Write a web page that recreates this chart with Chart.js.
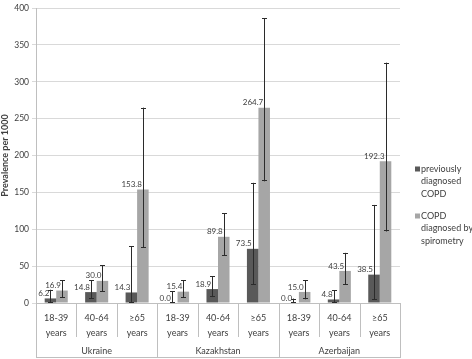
<!DOCTYPE html>
<html>
<head>
<meta charset="utf-8">
<script src="https://cdn.jsdelivr.net/npm/chart.js@4"></script>
<style>
  html, body { margin: 0; padding: 0; background: #fff; }
  #wrap { width: 472px; height: 359px; position: relative; }
</style>
</head>
<body>
<div id="wrap"><canvas id="copdChart" width="472" height="359"></canvas></div>
<script>
// age groups per country (two-line tick labels)
const ageLabels = [
    ['18-39', 'years'], ['40-64', 'years'], ['\u226565', 'years'],
    ['18-39', 'years'], ['40-64', 'years'], ['\u226565', 'years'],
    ['18-39', 'years'], ['40-64', 'years'], ['\u226565', 'years']
];
const countries = ['Ukraine', 'Kazakhstan', 'Azerbaijan'];
const yTicks = [0, 50, 100, 150, 200, 250, 300, 350, 400];

const seriesNames = ['previously diagnosed COPD', 'COPD diagnosed by spirometry'];
const legendLines = [['previously', 'diagnosed', 'COPD'], ['COPD', 'diagnosed by', 'spirometry']];

const previousCOPD = [6.2, 14.8, 14.3, 0.0, 18.9, 73.5, 0.0, 4.8, 38.5];
const previousLow = [0, 6, 0, 0, 8, 25, 0, 0, 4.5];
const previousHigh = [18, 31, 77, 16, 36, 163, 6, 17, 133];

const spiroCOPD = [16.9, 30.0, 153.8, 15.4, 89.8, 264.7, 15.0, 43.5, 192.3];
const spiroLow = [7, 15, 75, 7, 64, 165, 5, 25, 97];
const spiroHigh = [31, 51, 265, 31, 122, 386, 31, 68, 326];

const FONT = 'Lato';
const textColor = '#404040';
const lineGray = '#bfbfbf';

// error bars + value labels on top of bars
const barExtras = {
    id: 'barExtras',
    afterDatasetsDraw(chart) {
        const ctx = chart.ctx;
        const y = chart.scales.y;
        const ranges = [[previousLow, previousHigh], [spiroLow, spiroHigh]];
        ctx.save();
        chart.data.datasets.forEach((ds, di) => {
            const meta = chart.getDatasetMeta(di);
            meta.data.forEach((bar, i) => {
                const lo = y.getPixelForValue(ranges[di][0][i]);
                const hi = y.getPixelForValue(ranges[di][1][i]);
                const x = Math.round(bar.x) + 0.5;
                ctx.strokeStyle = '#2b2b2b';
                ctx.lineWidth = 1;
                ctx.beginPath();
                ctx.moveTo(x, lo); ctx.lineTo(x, hi);
                ctx.moveTo(x - 2.5, Math.round(hi) + 0.5); ctx.lineTo(x + 2.5, Math.round(hi) + 0.5);
                ctx.moveTo(x - 2.5, Math.round(lo) - 0.5); ctx.lineTo(x + 2.5, Math.round(lo) - 0.5);
                ctx.stroke();

                ctx.fillStyle = textColor;
                ctx.font = '8px ' + FONT;
                ctx.textAlign = 'right';
                ctx.textBaseline = 'bottom';
                ctx.fillText(ds.data[i].toFixed(1), bar.x - 1, bar.y - 1);
            });
        });
        ctx.restore();
    }
};

// multi-level category box below the x axis + country names
const categoryBox = {
    id: 'categoryBox',
    afterDraw(chart) {
        const ctx = chart.ctx;
        const x = chart.scales.x;
        const area = chart.chartArea;
        const n = ageLabels.length;
        const bounds = [area.left];
        for (let i = 1; i < n; i++) {
            bounds.push((x.getPixelForValue(i - 1) + x.getPixelForValue(i)) / 2);
        }
        bounds.push(area.right);
        const innerBottom = area.bottom + 34;
        const outerBottom = area.bottom + 54;
        ctx.save();
        ctx.strokeStyle = lineGray;
        ctx.lineWidth = 1;
        ctx.beginPath();
        bounds.forEach((bx, i) => {
            const px = Math.round(bx) + 0.5;
            ctx.moveTo(px, area.bottom);
            ctx.lineTo(px, i % 3 === 0 ? outerBottom : innerBottom);
        });
        ctx.moveTo(area.left, outerBottom + 0.5);
        ctx.lineTo(area.right + 1, outerBottom + 0.5);
        ctx.stroke();

        ctx.fillStyle = textColor;
        ctx.font = '9px ' + FONT;
        ctx.textAlign = 'center';
        ctx.textBaseline = 'middle';
        countries.forEach((c, g) => {
            const cx = (bounds[g * 3] + bounds[g * 3 + 3]) / 2;
            ctx.fillText(c, cx, area.bottom + 48);
        });
        ctx.restore();
    }
};

// legend at the right with wrapped text
const sideLegend = {
    id: 'sideLegend',
    afterDraw(chart) {
        const ctx = chart.ctx;
        const area = chart.chartArea;
        const left = area.right + 15;
        const tops = [169, 216];
        ctx.save();
        ctx.font = '9px ' + FONT;
        ctx.textAlign = 'left';
        ctx.textBaseline = 'middle';
        chart.data.datasets.forEach((ds, di) => {
            ctx.fillStyle = ds.backgroundColor;
            ctx.fillRect(left, tops[di] - 2.5, 5, 5);
            ctx.fillStyle = textColor;
            legendLines[di].forEach((line, li) => {
                ctx.fillText(line, left + 6, tops[di] + li * 12.3);
            });
        });
        ctx.restore();
    }
};

new Chart(document.getElementById('copdChart'), {
    type: 'bar',
    data: {
        labels: ageLabels,
        datasets: [
            { label: seriesNames[0], data: previousCOPD, backgroundColor: '#595959',
              categoryPercentage: 0.57, barPercentage: 1.0 },
            { label: seriesNames[1], data: spiroCOPD, backgroundColor: '#a6a6a6',
              categoryPercentage: 0.57, barPercentage: 1.0 }
        ]
    },
    options: {
        responsive: false,
        animation: false,
        devicePixelRatio: 1,
        layout: { padding: { left: 0, right: 72, top: 0, bottom: 0 } },
        plugins: {
            legend: { display: false },
            tooltip: { enabled: false }
        },
        scales: {
            x: {
                grid: { display: false },
                border: { display: true, color: lineGray },
                ticks: {
                    autoSkip: false, maxRotation: 0, padding: 0,
                    color: textColor,
                    font: { family: FONT, size: 9, lineHeight: 1.6 }
                },
                afterFit(scale) { scale.height = 56; }
            },
            y: {
                min: 0, max: 400,
                afterBuildTicks(scale) { scale.ticks = yTicks.map(v => ({ value: v })); },
                grid: { color: '#d9d9d9', tickLength: 4 },
                border: { display: true, color: lineGray },
                ticks: {
                    padding: 3, color: textColor,
                    font: { family: FONT, size: 8.5 }
                },
                title: {
                    display: true, text: 'Prevalence per 1000', color: textColor,
                    font: { family: FONT, size: 9, weight: 'bold' },
                    padding: { top: 0, bottom: 0 }
                },
                afterFit(scale) { scale.width = 36; }
            }
        }
    },
    plugins: [barExtras, categoryBox, sideLegend]
});
</script>
</body>
</html>
